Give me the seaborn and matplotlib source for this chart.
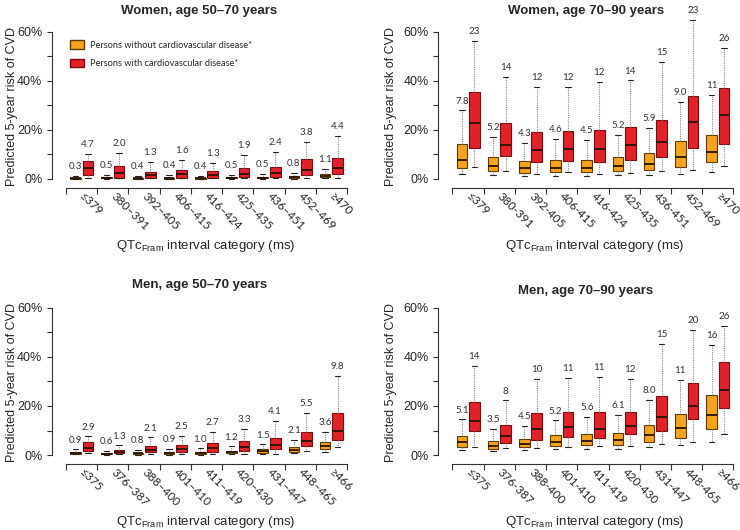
import numpy as np
import pandas as pd
import matplotlib.pyplot as plt
import matplotlib.ticker as mtick
from matplotlib.patches import Patch
import seaborn as sns

# five-number summaries: [low whisker, Q1, median, Q3, high whisker] in %
women_50_cats = ['≤379', '380–391', '392–405', '406–415', '416–424', '425–435', '436–451', '452–469', '≥470']
women_50_without = [[0.05, 0.15, 0.3, 0.55, 1.2], [0.05, 0.2, 0.4, 0.7, 1.8], [0.05, 0.15, 0.3, 0.6, 1.2],
                    [0.05, 0.15, 0.35, 0.6, 1.5], [0.05, 0.15, 0.3, 0.6, 1.3], [0.05, 0.2, 0.4, 0.7, 1.7],
                    [0.05, 0.2, 0.45, 0.8, 2.0], [0.1, 0.4, 0.7, 1.4, 2.6], [0.3, 0.8, 1.1, 2.2, 4.1]]
women_50_with = [[0.4, 1.5, 4.6, 7.3, 10.2], [0.3, 0.6, 2.3, 5.3, 10.5], [0.2, 0.5, 1.6, 2.8, 6.8],
                 [0.2, 0.5, 1.9, 3.7, 7.8], [0.2, 0.6, 1.8, 3.2, 6.7], [0.2, 0.7, 2.0, 4.4, 9.7],
                 [0.3, 0.9, 2.5, 5.0, 11.0], [0.5, 1.6, 3.7, 8.2, 15.0], [0.5, 2.0, 4.3, 8.5, 17.5]]
women_50_without_lbl = ['0.3', '0.5', '0.4', '0.4', '0.4', '0.5', '0.5', '0.8', '1.1']
women_50_with_lbl = ['4.7', '2.0', '1.3', '1.6', '1.3', '1.9', '2.4', '3.8', '4.4']

women_70_cats = ['≤379', '380-391', '392-405', '406-415', '416-424', '425-435', '436-451', '452-469', '≥470']
women_70_without = [[2.0, 4.6, 7.8, 14.3, 28.0], [1.6, 3.3, 5.3, 8.9, 17.3], [1.2, 2.6, 4.4, 7.2, 14.6],
                    [1.4, 2.8, 4.6, 7.9, 16.2], [1.4, 2.7, 4.5, 7.8, 16.0], [1.6, 3.1, 5.2, 9.0, 17.9],
                    [1.8, 3.7, 6.0, 10.4, 20.9], [2.2, 5.0, 9.1, 15.6, 31.4], [2.9, 6.8, 11.2, 18.0, 34.2]]
women_70_with = [[4.8, 12.5, 22.8, 35.7, 56.5], [3.3, 9.5, 13.9, 23.0, 41.5], [2.2, 6.8, 11.9, 19.1, 37.5],
                 [2.7, 7.4, 12.4, 19.6, 37.5], [2.0, 6.8, 12.1, 20.0, 39.6], [2.5, 7.8, 13.8, 21.1, 40.2],
                 [3.1, 8.9, 14.9, 24.1, 47.6], [3.8, 12.5, 23.3, 34.0, 64.8], [5.5, 14.3, 26.2, 37.1, 53.5]]
women_70_without_lbl = ['7.8', '5.2', '4.3', '4.6', '4.5', '5.2', '5.9', '9.0', '11']
women_70_with_lbl = ['23', '14', '12', '12', '12', '14', '15', '23', '26']

men_50_cats = ['≤375', '376–387', '388–400', '401–410', '411–419', '420–430', '431–447', '448–465', '≥466']
men_50_without = [[0.3, 0.5, 0.8, 1.1, 2.3], [0.1, 0.3, 0.4, 0.7, 1.5], [0.2, 0.5, 0.7, 0.9, 1.9],
                  [0.2, 0.5, 0.8, 1.1, 2.4], [0.2, 0.5, 0.9, 1.2, 2.7], [0.4, 0.7, 1.1, 1.8, 3.5],
                  [0.4, 0.9, 1.5, 2.4, 4.3], [0.7, 1.4, 2.2, 3.3, 6.1], [1.4, 2.4, 3.5, 5.3, 9.5]]
men_50_with = [[0.7, 1.8, 3.0, 5.4, 7.6], [0.4, 0.8, 1.2, 2.0, 3.9], [0.4, 1.2, 2.0, 3.5, 7.2],
               [0.4, 1.2, 2.6, 4.1, 7.9], [0.4, 1.4, 3.0, 4.7, 9.4], [0.4, 1.8, 3.4, 5.6, 10.6],
               [0.4, 2.6, 4.2, 6.9, 13.8], [1.5, 3.7, 5.7, 9.2, 17.1], [3.1, 6.1, 9.9, 17.0, 32.2]]
men_50_without_lbl = ['0.9', '0.6', '0.8', '0.9', '1.0', '1.2', '1.5', '2.1', '3.6']
men_50_with_lbl = ['2.9', '1.3', '2.1', '2.5', '2.7', '3.3', '4.1', '5.5', '9.8']

men_70_cats = ['≤375', '376-387', '388-400', '401-410', '411-419', '420-430', '431-447', '448-465', '≥466']
men_70_without = [[1.9, 3.4, 5.2, 7.9, 14.5], [1.5, 2.3, 3.5, 5.7, 10.6], [2.0, 3.3, 4.6, 6.6, 11.8],
                  [2.4, 3.7, 5.3, 8.0, 14.1], [2.4, 4.1, 5.8, 8.4, 15.5], [2.6, 4.2, 6.1, 8.8, 16.3],
                  [3.1, 5.4, 8.1, 12.1, 22.4], [4.1, 7.1, 11.0, 16.7, 30.5], [5.3, 10.6, 16.3, 24.4, 44.8]]
men_70_with = [[3.1, 9.6, 14.0, 21.7, 36.4], [2.8, 5.0, 7.7, 12.2, 22.3], [2.8, 6.2, 10.6, 17.0, 30.9],
               [3.3, 7.2, 11.3, 17.4, 31.6], [3.7, 7.1, 10.6, 17.4, 32.0], [3.7, 8.4, 11.9, 17.6, 31.2],
               [4.5, 9.9, 15.6, 24.2, 45.2], [5.2, 14.8, 19.8, 29.4, 50.9], [8.4, 19.3, 26.5, 38.0, 52.6]]
men_70_without_lbl = ['5.1', '3.5', '4.5', '5.2', '5.6', '6.1', '8.0', '11', '16']
men_70_with_lbl = ['14', '8', '10', '11', '11', '12', '15', '20', '26']

sns.set_style('ticks')
plt.rcParams['font.family'] = ['Liberation Sans', 'DejaVu Sans']
plt.rcParams['mathtext.default'] = 'regular'

GROUPS = ['without', 'with']
COLORS = {'without': '#F7A21B', 'with': '#E42128'}
EDGES = ['#5c3a00', '#7d0c12']
SMALL = ['Lato', 'DejaVu Sans']


def draw_panel(ax, title, cats, without, with_, lbl_without, lbl_with, title_pad):
    rows = []
    for cat, w0, w1 in zip(cats, without, with_):
        rows += [(cat, 'without', v) for v in w0]
        rows += [(cat, 'with', v) for v in w1]
    df = pd.DataFrame(rows, columns=['cat', 'group', 'risk'])

    sns.boxplot(data=df, x='cat', y='risk', hue='group', order=cats, hue_order=GROUPS,
                palette=COLORS, saturation=1, whis=(0, 100), width=0.8, gap=0.15,
                showfliers=False, legend=False, linewidth=0.8, ax=ax)

    for cont, edge in zip(ax.containers, EDGES):
        for b in cont.boxes:
            b.set_edgecolor(edge)
            b.set_linewidth(0.8)
        for m in cont.medians:
            m.set_color('#2a1200')
            m.set_linewidth(1.3)
        for w in cont.whiskers:
            w.set_color('#8a8a8a')
            w.set_linestyle((0, (1, 1)))
            w.set_linewidth(0.8)
        for c in cont.caps:
            c.set_color('#222222')
            c.set_linewidth(0.8)
    for art in ax.patches + ax.lines:
        art.set_clip_on(False)

    # mean values above the whiskers
    for i in range(len(cats)):
        for off, stats, lbls in ((-0.2, without, lbl_without), (0.2, with_, lbl_with)):
            ax.annotate(lbls[i], (i + off, stats[i][-1]), xytext=(0, 3.5),
                        textcoords='offset points', ha='center', va='bottom',
                        fontsize=7, family=SMALL, color='#333333', annotation_clip=False)

    n = len(cats)
    sns.despine(ax=ax)
    ax.spines['bottom'].set_position(('outward', 6.5))
    ax.spines['bottom'].set_bounds(-0.5, n - 0.5)
    ax.spines['left'].set_bounds(0, 60)
    for s in ('left', 'bottom'):
        ax.spines[s].set_linewidth(0.8)
        ax.spines[s].set_color('#333333')

    ax.set_xlim(-0.95, n - 0.5)
    ax.set_ylim(0, 60)
    ax.set_yticks([0, 20, 40, 60])
    ax.set_yticks([10, 30, 50], minor=True)
    ax.yaxis.set_major_formatter(mtick.PercentFormatter(decimals=0))
    ax.set_xticks(range(n), cats)
    ax.set_xticks(np.arange(n + 1) - 0.5, minor=True)
    ax.tick_params(axis='x', which='major', length=0, pad=5)
    ax.tick_params(axis='x', which='minor', length=4, width=0.8, color='#333333')
    ax.tick_params(axis='y', which='both', length=3.5, width=0.8, color='#333333', labelsize=9)
    for lbl in ax.get_xticklabels():
        lbl.set_rotation(-45)
        lbl.set_ha('left')
        lbl.set_va('center')
        lbl.set_rotation_mode('anchor')
        lbl.set_fontsize(8.5)
        lbl.set_family(SMALL)

    ax.set_title(title, fontsize=9.5, fontweight='bold', pad=title_pad)
    ax.set_ylabel('Predicted 5-year risk of CVD', fontsize=9, va='center')
    ax.set_xlabel('QTc$_{Fram}$ interval category (ms)', fontsize=9.5, va='center')


fig = plt.figure(figsize=(7.4, 5.3), dpi=100)
ax_w50 = fig.add_axes([0.0703, 0.6623, 0.3986, 0.2774])
ax_w70 = fig.add_axes([0.5925, 0.6623, 0.3986, 0.2774])
ax_m50 = fig.add_axes([0.0703, 0.1415, 0.3986, 0.2774])
ax_m70 = fig.add_axes([0.5925, 0.1415, 0.3986, 0.2774])

draw_panel(ax_w50, 'Women, age 50–70 years', women_50_cats, women_50_without, women_50_with,
           women_50_without_lbl, women_50_with_lbl, 13)
draw_panel(ax_w70, 'Women, age 70–90 years', women_70_cats, women_70_without, women_70_with,
           women_70_without_lbl, women_70_with_lbl, 13)
draw_panel(ax_m50, 'Men, age 50–70 years', men_50_cats, men_50_without, men_50_with,
           men_50_without_lbl, men_50_with_lbl, 14.5)
draw_panel(ax_m70, 'Men, age 70–90 years', men_70_cats, men_70_without, men_70_with,
           men_70_without_lbl, men_70_with_lbl, 10)

ax_w50.yaxis.set_label_coords(-0.136, 0.49)
ax_m50.yaxis.set_label_coords(-0.136, 0.49)
ax_w70.yaxis.set_label_coords(-0.16, 0.49)
ax_m70.yaxis.set_label_coords(-0.16, 0.49)
for ax in (ax_w50, ax_m50):
    ax.xaxis.set_label_coords(0.522, -0.455)
for ax in (ax_w70, ax_m70):
    ax.xaxis.set_label_coords(0.53, -0.455)

handles = [Patch(facecolor=COLORS['without'], edgecolor=EDGES[0], label='Persons without cardiovascular disease*'),
           Patch(facecolor=COLORS['with'], edgecolor=EDGES[1], label='Persons with cardiovascular disease*')]
ax_w50.legend(handles=handles, loc='upper left', bbox_to_anchor=(0.05, 0.97), frameon=False,
              prop={'family': SMALL, 'size': 6.7}, handlelength=1.5, handleheight=1.1,
              labelspacing=0.95, borderaxespad=0, handletextpad=0.6)

fig.savefig('out.png', dpi=100)
